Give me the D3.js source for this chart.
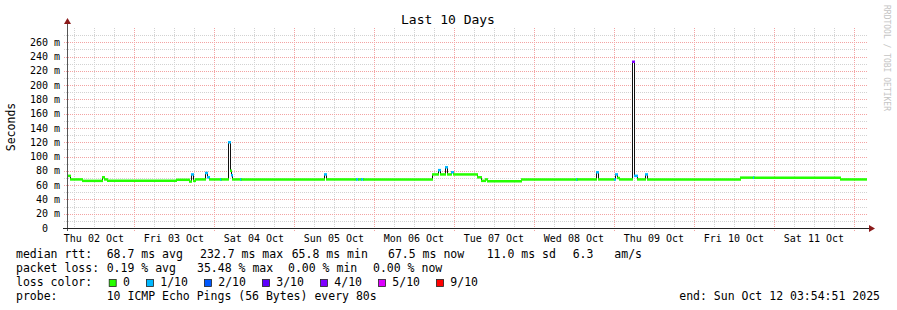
<!DOCTYPE html>
<html>
<head>
<meta charset="utf-8">
<script src="https://cdn.jsdelivr.net/npm/d3@7"></script>
<style>
  body { margin: 0; background: #fff; }
  text { font-family: "DejaVu Sans Mono", monospace; fill: #000; }
</style>
</head>
<body>
<script>
// median rtt steps (UTC, start of each step)
const stepTimes = ["10-02 03:55","10-02 04:49","10-02 08:25","10-02 14:25","10-02 15:01","10-02 15:55",
  "10-03 12:37","10-03 16:31","10-03 17:07","10-03 17:43","10-03 18:19","10-03 21:19","10-03 21:55","10-03 22:31",
  "10-04 01:49","10-04 02:07","10-04 04:13","10-04 04:49","10-04 05:07","10-04 05:25","10-04 07:49","10-04 08:07",
  "10-05 09:01","10-05 09:37","10-05 18:37","10-05 19:13","10-05 20:07","10-05 20:43",
  "10-06 17:25","10-06 19:13","10-06 19:49","10-06 21:19","10-06 21:55","10-06 23:07","10-06 23:43",
  "10-07 06:55","10-07 08:07","10-07 09:19","10-07 09:55","10-07 20:07",
  "10-08 12:37","10-08 12:55","10-08 18:37","10-08 19:13",
  "10-09 00:01","10-09 00:19","10-09 00:55","10-09 01:31","10-09 05:25","10-09 06:01","10-09 06:55","10-09 09:19","10-09 09:55",
  "10-10 13:49","10-10 17:43","10-10 18:01","10-11 19:49"]
const dataEnd = "10-12 03:37"
const medianMs = [73,68,66,71,68,66,
  67.5,65,75,66,68,77,71,68,
  68,68,120,80,74,68,68,68,
  75,68,68,68,68,68,
  75,81,75,85,75,78,75,
  71,66,68,65.5,68,
  68,68,78,68,
  68,75,70,68,232.7,73,68,75,68,
  70.5,70.5,70.5,68]
const lossCount = [0,0,0,0,0,0,
  0,0,1,0,0,1,1,0,
  1,0,1,0,1,0,1,0,
  1,0,1,0,1,0,
  0,1,0,1,0,1,0,
  0,0,0,0,0,
  1,0,1,0,
  1,1,0,0,4,1,0,1,0,
  0,1,0,0]

const lossColors = ["#26ff00","#00b8ff","#0059ff","#5e00ff","#7e00ff","#dd00ff","#ff0000"]
const lossLabels = ["0","1/10","2/10","3/10","4/10","5/10","9/10"]
const yTicks = [0,20,40,60,80,100,120,140,160,180,200,220,240,260]

const rttStats = ["68.7 ms avg","232.7 ms max","65.8 ms min","67.5 ms now","11.0 ms sd","6.3","am/s"]
const lossStats = ["0.19 % avg","35.48 % max","0.00 % min","0.00 % now"]
const probeText = "10 ICMP Echo Pings (56 Bytes) every 80s"
const endText = "end: Sun Oct 12 03:54:51 2025"

const W = 897, H = 310
const margin = {left: 67, right: 30, top: 28, bottom: 82}
const parse = d3.utcParse("%Y-%m-%d %H:%M")
const pt = s => parse("2025-" + s)
const start = new Date(Date.UTC(2025, 9, 2, 3, 54, 51))
const end = new Date(Date.UTC(2025, 9, 12, 3, 54, 51))

const x = d3.scaleUtc().domain([start, end]).range([margin.left, W - margin.right])
const y = d3.scaleLinear().domain([0, 280]).range([H - margin.bottom, margin.top])
const x0 = margin.left, x1 = W - margin.right, y0 = H - margin.bottom, y1 = margin.top

const svg = d3.select("body").append("svg").attr("width", W).attr("height", H)

// grid
const gridGray = "#d2d2d2", gridRed = "#f3a3a3"
const g = svg.append("g").attr("shape-rendering", "crispEdges")
const minorY = d3.range(10, 280, 10).filter(v => v % 20 !== 0)
g.selectAll(".hmin").data(minorY).enter().append("line")
  .attr("x1", x0 - 3).attr("x2", x1 + 1).attr("y1", d => Math.round(y(d)) + 0.5).attr("y2", d => Math.round(y(d)) + 0.5)
  .attr("stroke", gridGray).attr("stroke-dasharray", "1,1")
const hours6 = d3.utcHour.every(6).range(start, end).filter(d => d.getUTCHours() !== 0)
g.selectAll(".vmin").data(hours6).enter().append("line")
  .attr("x1", d => Math.round(x(d)) + 0.5).attr("x2", d => Math.round(x(d)) + 0.5).attr("y1", y1).attr("y2", y0 + 2)
  .attr("stroke", gridGray).attr("stroke-dasharray", "1,1")
g.selectAll(".hmaj").data(yTicks.slice(1)).enter().append("line")
  .attr("x1", x0 - 3).attr("x2", x1 + 1).attr("y1", d => Math.round(y(d)) + 0.5).attr("y2", d => Math.round(y(d)) + 0.5)
  .attr("stroke", gridRed).attr("stroke-dasharray", "1,1")
const days = d3.utcDay.range(start, end)
g.selectAll(".vmaj").data(days).enter().append("line")
  .attr("x1", d => Math.round(x(d)) + 0.5).attr("x2", d => Math.round(x(d)) + 0.5).attr("y1", y1).attr("y2", y0 + 3)
  .attr("stroke", gridRed).attr("stroke-dasharray", "1,1")

// data
const pts = stepTimes.map((t, i) => ({t: pt(t), v: medianMs[i], loss: lossCount[i]}))
const endT = pt(dataEnd)
const lossIdx = l => l <= 4 ? l : (l <= 8 ? 5 : 6)

const stepLine = d3.line().x(d => Math.round(x(d.t)) + 0.5).y(d => y(d.v)).curve(d3.curveStepAfter)
svg.append("path").datum(pts.concat([{t: endT, v: medianMs[medianMs.length - 1]}]))
  .attr("d", stepLine).attr("fill", "none").attr("stroke", "#111").attr("stroke-width", 1)
  .attr("shape-rendering", "crispEdges")

svg.append("g").selectAll("line").data(pts).enter().append("line")
  .attr("x1", d => Math.round(x(d.t)))
  .attr("x2", (d, i) => Math.round(x(i + 1 < pts.length ? pts[i + 1].t : endT)) + 1)
  .attr("y1", d => y(d.v)).attr("y2", d => y(d.v))
  .attr("stroke", d => lossColors[lossIdx(d.loss)]).attr("stroke-width", 2.5)

// axes
svg.append("line").attr("x1", x0 + 0.5).attr("x2", x0 + 0.5).attr("y1", y0 + 3).attr("y2", 23)
  .attr("stroke", "#555").attr("stroke-width", 1)
svg.append("line").attr("x1", x0 - 4).attr("x2", x1 + 5).attr("y1", y0 + 0.5).attr("y2", y0 + 0.5)
  .attr("stroke", "#222").attr("stroke-width", 1)
svg.append("path").attr("d", `M${x0 - 3},${24} L${x0 + 0.5},${18} L${x0 + 4},${24} Z`).attr("fill", "#8b1a1a")
svg.append("path").attr("d", `M${x1 + 2},${y0 - 3} L${x1 + 8},${y0 + 0.5} L${x1 + 2},${y0 + 4} Z`).attr("fill", "#8b1a1a")

svg.append("g").selectAll("text").data(yTicks).enter().append("text")
  .attr("x", d => d === 0 ? 48 : 60).attr("y", d => y(d) + 3.6)
  .attr("text-anchor", "end").attr("font-size", "10px")
  .text(d => d === 0 ? "0" : d + " m")

const noons = days.map(d => d3.utcHour.offset(d, -12)).filter(d => d > start)
svg.append("g").selectAll("text").data(noons).enter().append("text")
  .attr("x", d => x(d)).attr("y", 241.5).attr("text-anchor", "middle").attr("font-size", "10px")
  .text(d3.utcFormat("%a %d %b"))

// titles
svg.append("text").attr("x", 448).attr("y", 24).attr("text-anchor", "middle").attr("font-size", "13px").text("Last 10 Days")
svg.append("text").attr("transform", "translate(15,127) rotate(-90)").attr("text-anchor", "middle")
  .attr("font-size", "11.5px").text("Seconds")
svg.append("text").attr("transform", "translate(884,5) rotate(90)").attr("font-size", "8px")
  .style("fill", "#c4c4c4").text("RRDTOOL / TOBI OETIKER")

// legend
const fs = "11.5px"
const lg = svg.append("g").attr("font-size", fs)
const rttX = [106.7, 200, 291.7, 388, 486.7, 572.7, 614.3]
lg.append("text").attr("x", 16).attr("y", 258).text("median rtt:")
rttStats.forEach((s, i) => lg.append("text").attr("x", rttX[i]).attr("y", 258).text(s))
const lossX = [106.7, 197, 288, 373]
lg.append("text").attr("x", 16).attr("y", 272).text("packet loss:")
lossStats.forEach((s, i) => lg.append("text").attr("x", lossX[i]).attr("y", 272).text(s))
lg.append("text").attr("x", 16).attr("y", 286).text("loss color:")
let bx = 108.7
const charW = 6.93
lossLabels.forEach((s, i) => {
  lg.append("rect").attr("x", bx + 0.5).attr("y", 279.5).attr("width", 7).attr("height", 7)
    .attr("fill", lossColors[i]).attr("stroke", "#222").attr("stroke-width", 0.8)
  lg.append("text").attr("x", bx + 14.3).attr("y", 286).text(s)
  bx = bx + 14.3 + s.length * charW + 16
})
lg.append("text").attr("x", 16).attr("y", 300).text("probe:")
lg.append("text").attr("x", 106.7).attr("y", 300).text(probeText)
lg.append("text").attr("x", 880).attr("y", 300).attr("text-anchor", "end").text(endText)
</script>
</body>
</html>
